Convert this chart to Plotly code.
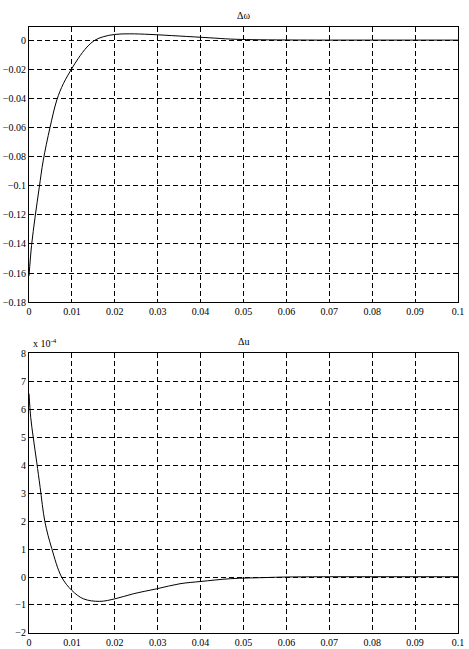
"""Two stacked step-response plots (speed and voltage deviation)."""

import plotly.graph_objects as go
from plotly.subplots import make_subplots

# speed deviation, top panel
t_w = [0, 0.0006, 0.0014, 0.0024, 0.0033, 0.0049, 0.0065, 0.008, 0.0100, 0.0115,
       0.0135, 0.0154, 0.0173, 0.020, 0.0235, 0.0282, 0.035, 0.042, 0.047, 0.052,
       0.06, 0.07, 0.08, 0.09, 0.1]
dw = [-0.162, -0.141, -0.122, -0.101, -0.083, -0.06, -0.041, -0.03, -0.0195, -0.0125,
      -0.0048, 0, 0.0023, 0.0039, 0.0043, 0.0039, 0.0028, 0.0016, 0.0007, 0.0003,
      0.0001, 0, 0, 0, 0]

# voltage deviation, bottom panel (x 10^-4)
t_u = [0, 0.0004, 0.001, 0.0018, 0.0026, 0.0037, 0.0053, 0.0076, 0.0100, 0.0127,
       0.0165, 0.020, 0.0243, 0.0298, 0.0352, 0.040, 0.047, 0.055, 0.06, 0.07,
       0.08, 0.09, 0.1]
du = [6.55, 5.7, 4.97, 4.1, 3.2, 1.98, 1.02, 0, -0.48, -0.78,
      -0.87, -0.78, -0.6, -0.42, -0.24, -0.16, -0.06, -0.02, 0, 0.01,
      0.01, 0.01, 0.01]

x_ticks = [0, 0.01, 0.02, 0.03, 0.04, 0.05, 0.06, 0.07, 0.08, 0.09, 0.1]
x_labels = ["0", "0.01", "0.02", "0.03", "0.04", "0.05", "0.06", "0.07", "0.08", "0.09", "0.1"]
dw_ticks = [0, -0.02, -0.04, -0.06, -0.08, -0.1, -0.12, -0.14, -0.16, -0.18]
du_ticks = [8, 7, 6, 5, 4, 3, 2, 1, 0, -1, -2]

FONT = "Liberation Serif"

fig = make_subplots(rows=2, cols=1, vertical_spacing=0.08)
fig.add_trace(go.Scatter(x=t_w, y=dw, mode="lines", line=dict(color="black", width=1),
                         line_shape="spline"), row=1, col=1)
fig.add_trace(go.Scatter(x=t_u, y=du, mode="lines", line=dict(color="black", width=1),
                         line_shape="spline"), row=2, col=1)

axis_style = dict(
    showline=True, mirror=True, linecolor="black", linewidth=1,
    showgrid=True, gridcolor="black", gridwidth=1, griddash="5px,3px",
    zeroline=False, ticks="", automargin=False,
    tickfont=dict(family=FONT, size=10, color="black"),
)
fig.update_xaxes(range=[0, 0.1], tickvals=x_ticks, ticktext=x_labels, **axis_style)
fig.update_yaxes(range=[-0.18, 0.009], tickvals=dw_ticks, **axis_style, row=1, col=1)
fig.update_yaxes(range=[-2, 8], tickvals=du_ticks, **axis_style, row=2, col=1)

fig.update_layout(
    width=469, height=649,
    margin=dict(l=29, r=11, t=27, b=16),
    paper_bgcolor="white", plot_bgcolor="white",
    showlegend=False,
    font=dict(family=FONT, size=10, color="black"),
    xaxis=dict(domain=[0, 1]), yaxis=dict(domain=[0.546, 1]),
    xaxis2=dict(domain=[0, 1]), yaxis2=dict(domain=[0, 0.462]),
)
fig.add_annotation(text="Δω", x=0.5, y=1, xref="paper", yref="paper",
                   yanchor="bottom", yshift=4, showarrow=False)
fig.add_annotation(text="Δu", x=0.5, y=0.462, xref="paper", yref="paper",
                   yanchor="bottom", yshift=4, showarrow=False)
fig.add_annotation(text="x 10<sup>-4</sup>", x=0, y=0.462, xref="paper", yref="paper",
                   xanchor="left", yanchor="bottom", xshift=2, yshift=2, showarrow=False)

# the page's default body margin would shift the figure by 8px
fig.write_html("out.html", config={"displayModeBar": False},
               post_script="document.body.style.margin='0';")
